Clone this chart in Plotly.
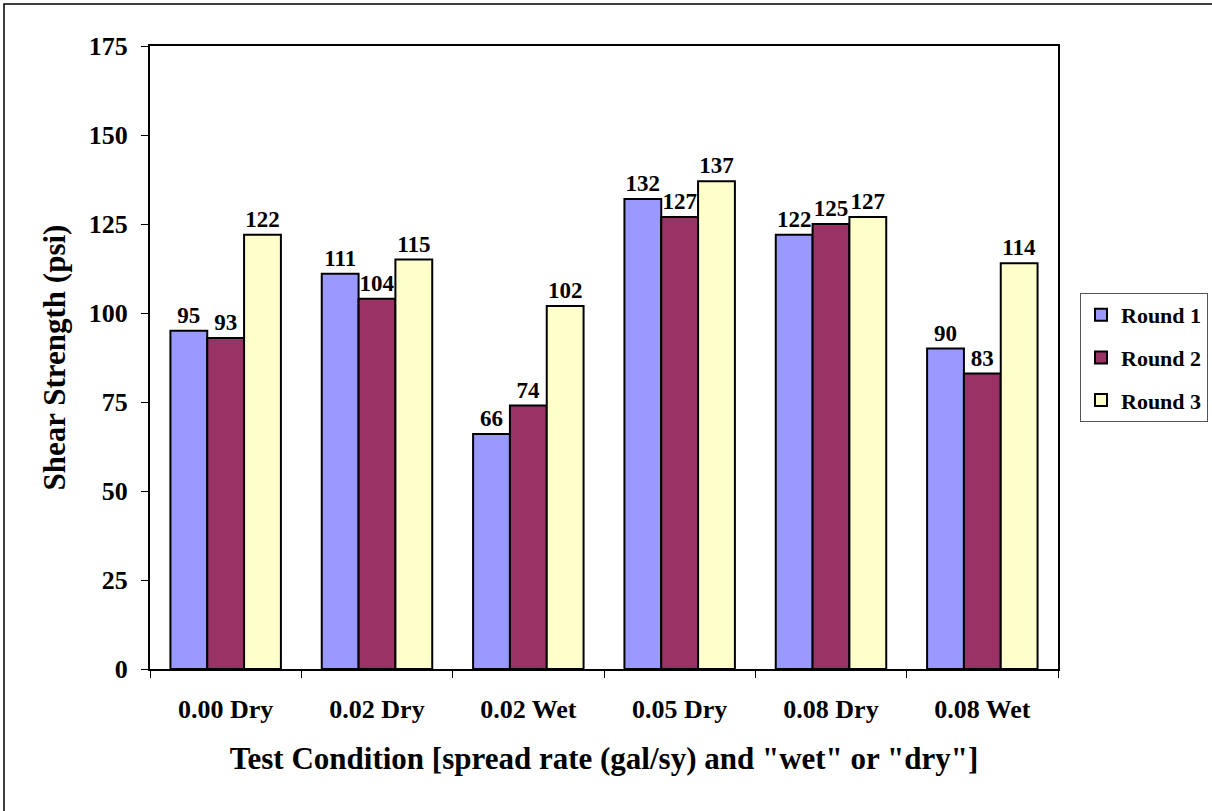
import plotly.graph_objects as go

conditions = ["0.00 Dry", "0.02 Dry", "0.02 Wet", "0.05 Dry", "0.08 Dry", "0.08 Wet"]
round1 = [95, 111, 66, 132, 122, 90]
round2 = [93, 104, 74, 127, 125, 83]
round3 = [122, 115, 102, 137, 127, 114]
series_names = ["Round 1", "Round 2", "Round 3"]
series_colors = ["#9999FF", "#993366", "#FFFFCC"]
y_ticks = [0, 25, 50, 75, 100, 125, 150, 175]

FONT = "Liberation Serif"

fig = go.Figure()
for name, vals, color in zip(series_names, [round1, round2, round3], series_colors):
    fig.add_trace(go.Bar(
        name=f"<b>{name}</b>",
        x=conditions,
        y=vals,
        text=[str(v) for v in vals],
        texttemplate="<b>%{text}</b>",
        textposition="outside",
        textfont=dict(family=FONT, size=23, color="black"),
        marker=dict(color=color, line=dict(color="black", width=2)),
        legendgroup=name,
        cliponaxis=False,
    ))

W, H = 1212, 811
ml, mr, mt, mb = 150, 154, 46, 142
pw, ph = W - ml - mr, H - mt - mb

fig.update_layout(
    width=W, height=H,
    margin=dict(l=ml, r=mr, t=mt, b=mb, autoexpand=False),
    paper_bgcolor="white",
    plot_bgcolor="white",
    barmode="group",
    bargap=0.27,
    bargroupgap=0,
    font=dict(family=FONT, color="black"),
    showlegend=True,
    legend=dict(
        x=(1080 - ml) / pw, xanchor="left",
        y=(H - mb - 293) / ph, yanchor="top",
        bordercolor="#555555", borderwidth=1,
        bgcolor="white",
        font=dict(family=FONT, size=22, color="black"),
        tracegroupgap=11,
        itemwidth=30,
    ),
    xaxis=dict(
        type="category",
        tickvals=conditions,
        ticktext=[f"<b>{c}</b>" for c in conditions],
        showline=True, linecolor="black", linewidth=2, mirror=True,
        ticks="outside", tickson="boundaries", ticklen=7, tickcolor="black", tickwidth=1,
        tickfont=dict(family=FONT, size=26, color="black"),
        showgrid=False,
        title=dict(text="<b>Test Condition [spread rate (gal/sy) and \"wet\" or \"dry\"]</b>",
                   font=dict(family=FONT, size=31, color="black"), standoff=24),
        ticklabelstandoff=16,
    ),
    yaxis=dict(
        range=[0, 175],
        tickvals=y_ticks,
        ticktext=[f"<b>{t}</b>" for t in y_ticks],
        showline=True, linecolor="black", linewidth=2, mirror=True,
        ticks="outside", ticklen=7, tickcolor="black", tickwidth=1,
        tickfont=dict(family=FONT, size=26, color="black"),
        showgrid=False, zeroline=False,
        title=dict(text="<b>Shear Strength (psi)</b>",
                   font=dict(family=FONT, size=31, color="black"), standoff=14),
        ticklabelstandoff=8,
    ),
)

# outer frame around the whole chart
fig.add_shape(
    type="rect", xref="paper", yref="paper",
    x0=(4 - ml) / pw, x1=(W + 20 - ml) / pw,
    y0=(H - mb - (H + 20)) / ph, y1=(H - mb - 4) / ph,
    line=dict(color="black", width=1.5),
    layer="below",
)

fig.write_html("out.html")
